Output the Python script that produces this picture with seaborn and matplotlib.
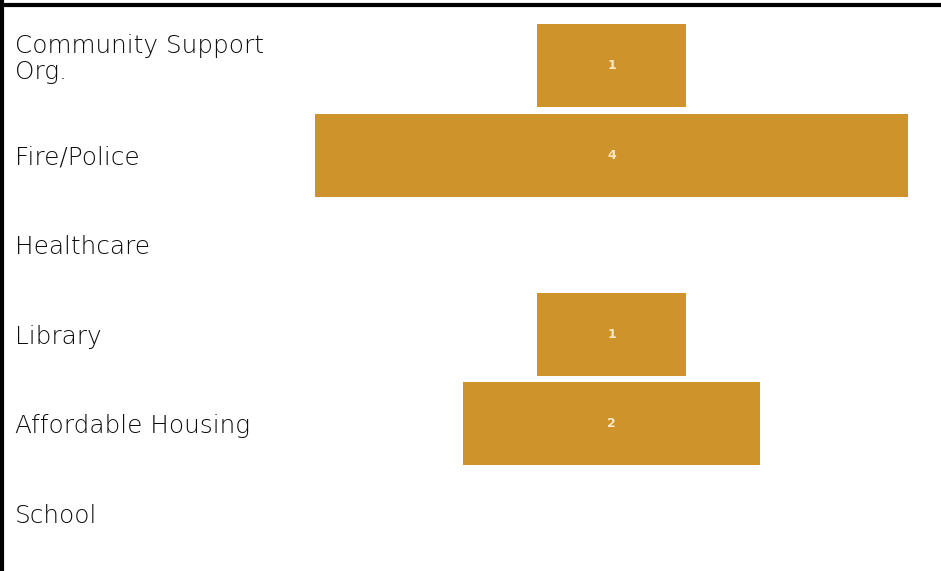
import matplotlib
matplotlib.use("Agg")
import matplotlib.pyplot as plt
import matplotlib.transforms as mtransforms
import seaborn as sns
import pandas as pd

# Facility categories and their counts
categories = ["Community Support\nOrg.", "Fire/Police", "Healthcare",
              "Library", "Affordable Housing", "School"]
counts = [1, 4, 0, 1, 2, 0]

bar_color = "#CF932C"
label_color = "#FBE7C4"

sns.set_theme(style="white")
plt.rcParams["font.family"] = ["DejaVu Sans"]

df = pd.DataFrame({"category": categories, "count": counts})

fig = plt.figure(figsize=(9.41, 5.71), dpi=100)
ax = fig.add_axes([315 / 941, 1 - 558 / 571, (908 - 315) / 941, (558 - 21) / 571])

# Centered (funnel-style) bars: each bar spans -count/2 .. +count/2
sns.barplot(data=df, x="count", y="category", orient="h", color=bar_color,
            width=0.93, ax=ax, saturation=1, edgecolor="none")
for patch, v in zip(ax.patches, df["count"]):
    patch.set_x(-v / 2.0)
    patch.set_width(v)

ax.set_xlim(-2, 2)
ax.set_ylim(len(categories) - 0.5, -0.5)
ax.set_xlabel("")
ax.set_ylabel("")
ax.set_xticks([])
ax.set_yticks([])
for s in ax.spines.values():
    s.set_visible(False)

# Value labels inside bars
for i, v in enumerate(df["count"]):
    if v > 0:
        ax.text(0, i, f"{v}", ha="center", va="center", color=label_color,
                fontsize=9, fontweight="bold")

# Category labels at the left edge of the figure
trans = mtransforms.blended_transform_factory(fig.transFigure, ax.transData)
for i, cat in enumerate(categories):
    ax.text(15 / 941, i + (-0.08 if "\n" in cat else 0.03), cat, transform=trans,
            ha="left", va="center", fontsize=17.8, color="#0d0d0d",
            fontweight="light", linespacing=1.1, clip_on=False)

# Frame lines along the top and left edges
fig.add_artist(plt.Line2D([0, 1], [1 - 4.5 / 571] * 2, transform=fig.transFigure,
                          color="black", lw=3))
fig.add_artist(plt.Line2D([1.5 / 941] * 2, [0, 1], transform=fig.transFigure,
                          color="black", lw=3))

fig.savefig("out.png", dpi=100, facecolor="white")
